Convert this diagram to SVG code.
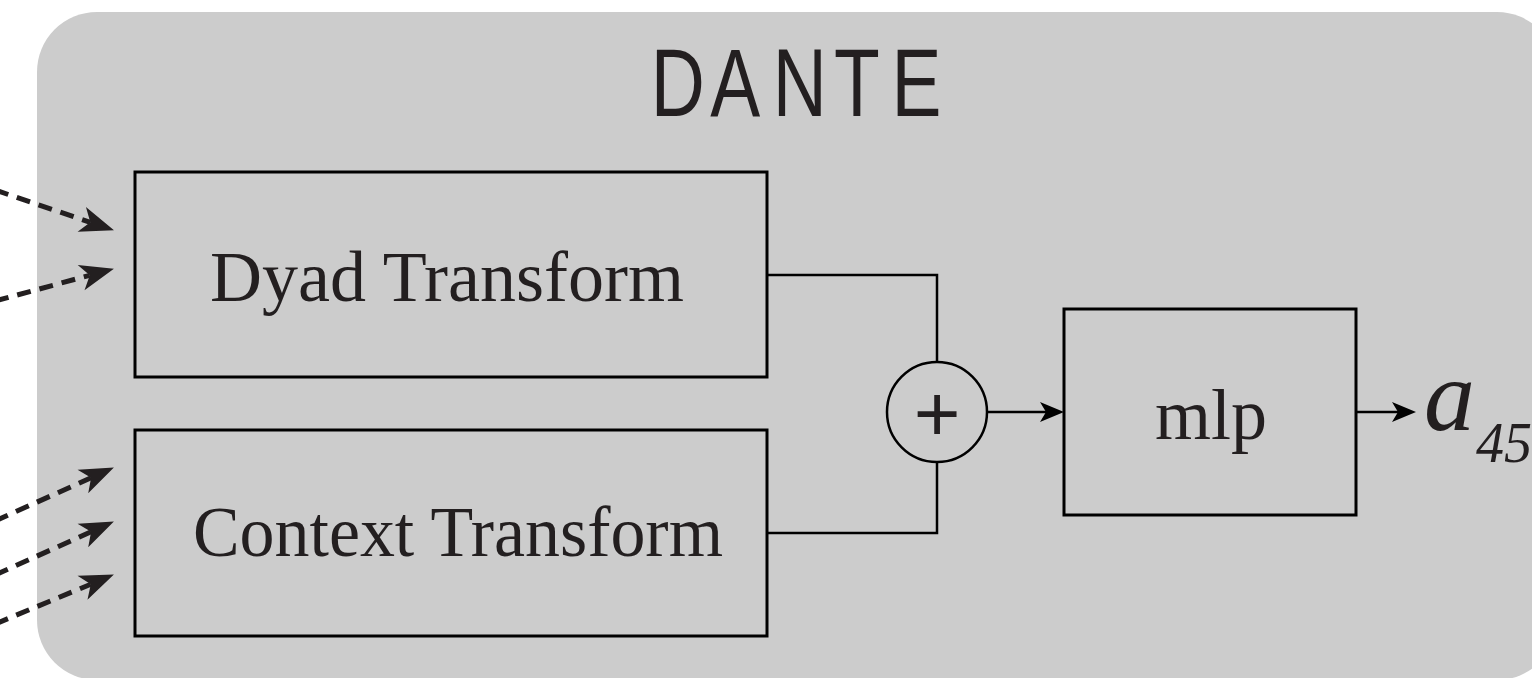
<svg xmlns="http://www.w3.org/2000/svg" width="1532" height="678" viewBox="0 0 1532 678">
<style>
.box{fill:none;stroke:#000;stroke-width:3}
.lbl{font-family:"Liberation Serif","Times New Roman",serif;font-size:72px;fill:#231f20;text-anchor:middle}
.conn{fill:none;stroke:#000;stroke-width:2.5}
.dash{fill:none;stroke:#231f20;stroke-width:5;stroke-dasharray:14 9}
</style>
<defs>
<marker id="dh" markerUnits="userSpaceOnUse" markerWidth="34" markerHeight="28" viewBox="0 0 34 28" refX="9" refY="14" orient="auto" overflow="visible">
<path d="M0,1 L34,14 L0,27 L9,14 Z" fill="#231f20"/>
</marker>
<marker id="sh" markerUnits="userSpaceOnUse" markerWidth="24" markerHeight="20" viewBox="0 0 24 20" refX="6" refY="10" orient="auto" overflow="visible">
<path d="M0,0 L24,10 L0,20 L6,10 Z" fill="#000"/>
</marker>
</defs>
<rect id="bg" x="37" y="12" width="1520" height="668" rx="60" ry="60" fill="#cccccc"/>
<g id="title">
<text transform="translate(657,116) scale(0.78,1)" font-family="'Liberation Sans',Arial,sans-serif" font-size="96" fill="#231f20"><tspan x="-7.9">D</tspan><tspan x="68.3">A</tspan><tspan x="148.3">N</tspan><tspan x="226.8">T</tspan><tspan x="300.6">E</tspan></text>
</g>
<g id="dyad">
<rect class="box" x="135" y="172" width="632" height="205"/>
<text class="lbl" x="447" y="301">Dyad Transform</text>
</g>
<g id="context">
<rect class="box" x="135" y="430" width="632" height="206"/>
<text class="lbl" x="458" y="556" textLength="530" lengthAdjust="spacingAndGlyphs">Context Transform</text>
</g>
<g id="sum">
<circle cx="937" cy="412" r="50" fill="none" stroke="#000" stroke-width="2.5"/>
<text x="937" y="441" font-family="'Liberation Sans',Arial,sans-serif" font-size="80" fill="#231f20" text-anchor="middle">+</text>
</g>
<g id="mlp">
<rect class="box" x="1064" y="309" width="292" height="206"/>
<text class="lbl" x="1211" y="439">mlp</text>
</g>
<g id="output">
<text x="1424" y="430" font-family="'Liberation Serif','Times New Roman',serif" font-style="italic" font-size="102" fill="#231f20">a</text>
<text x="1476" y="462" font-family="'Liberation Serif','Times New Roman',serif" font-style="italic" font-size="56" fill="#231f20">45</text>
</g>
<g id="connectors">
<path class="dash" d="M-5,190 L90.3,222.3" marker-end="url(#dh)"/>
<path class="dash" d="M-5,301 L89.8,275.3" marker-end="url(#dh)"/>
<path class="dash" d="M-5,521 L91.1,477.8" marker-end="url(#dh)"/>
<path class="dash" d="M-5,575 L91.1,531.8" marker-end="url(#dh)"/>
<path class="dash" d="M-5,624 L90.8,584.2" marker-end="url(#dh)"/>
<path class="conn" d="M767,275 H937 V362"/>
<path class="conn" d="M767,533 H937 V462"/>
<path class="conn" d="M987,412 H1046" marker-end="url(#sh)"/>
<path class="conn" d="M1356,412 H1398" marker-end="url(#sh)"/>
</g>
</svg>
